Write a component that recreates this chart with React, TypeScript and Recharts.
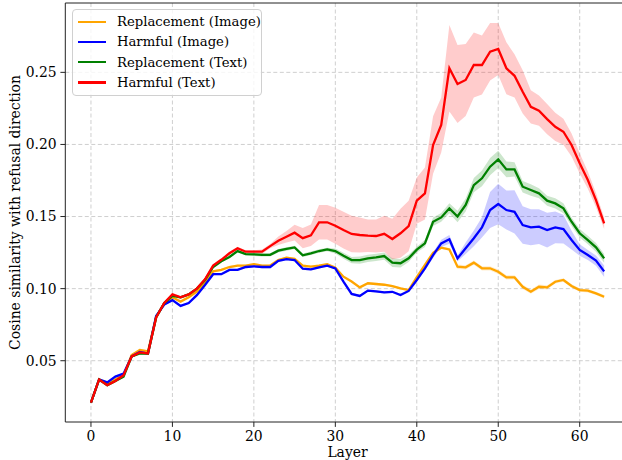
import React from 'react';
import { ComposedChart, Line, Area, XAxis, YAxis, CartesianGrid, Legend, ReferenceLine } from 'recharts';

const layers = Array.from({ length: 64 }, (_, i) => i);

const replImage = [
  0.021, 0.037, 0.034, 0.037, 0.040, 0.054, 0.0575, 0.0565, 0.080, 0.090,
  0.094, 0.091, 0.094, 0.098, 0.104, 0.112, 0.113, 0.115, 0.116, 0.116,
  0.117, 0.116, 0.116, 0.1198, 0.1214, 0.1207, 0.1159, 0.1152, 0.1159, 0.1169,
  0.1145, 0.1083, 0.1049, 0.1009, 0.1037, 0.1032, 0.1027, 0.1018, 0.1002, 0.099,
  0.108, 0.1164, 0.1249, 0.1284, 0.1272, 0.1152, 0.1148, 0.118, 0.1141, 0.1141,
  0.1117, 0.1078, 0.1078, 0.1013, 0.0979, 0.1013, 0.1009, 0.1048, 0.106, 0.1018,
  0.099, 0.0986, 0.0967, 0.0944,
];
const harmImage = [
  0.021, 0.037, 0.035, 0.039, 0.041, 0.053, 0.056, 0.055, 0.081, 0.089,
  0.092, 0.088, 0.090, 0.0955, 0.1025, 0.110, 0.110, 0.113, 0.113, 0.115,
  0.1155, 0.115, 0.115, 0.1193, 0.1205, 0.1198, 0.1138, 0.1134, 0.1148, 0.1159,
  0.114, 0.1049, 0.0963, 0.0949, 0.0986, 0.0981, 0.0974, 0.0978, 0.0956, 0.0984,
  0.106, 0.114, 0.1233, 0.1314, 0.1342, 0.121, 0.128, 0.1349, 0.1425, 0.1545,
  0.1587, 0.1545, 0.1533, 0.1441, 0.1425, 0.143, 0.1406, 0.1425, 0.1413, 0.1337,
  0.1268, 0.1233, 0.1194, 0.112,
];
const replText = [
  0.021, 0.037, 0.033, 0.036, 0.039, 0.053, 0.055, 0.055, 0.080, 0.090,
  0.095, 0.094, 0.096, 0.100, 0.106, 0.115, 0.119, 0.122, 0.126, 0.124,
  0.1238, 0.1234, 0.1234, 0.1263, 0.1275, 0.1286, 0.1231, 0.1245, 0.1261, 0.1272,
  0.1261, 0.1228, 0.1198, 0.1198, 0.121, 0.1217, 0.1226, 0.118, 0.1176, 0.121,
  0.127, 0.1314, 0.1464, 0.1494, 0.1557, 0.150, 0.158, 0.1718, 0.1765, 0.1846,
  0.1897, 0.1827, 0.1827, 0.1707, 0.1684, 0.1661, 0.161, 0.1591, 0.1557, 0.1464,
  0.1384, 0.1337, 0.1286, 0.121,
];
const harmText = [
  0.021, 0.037, 0.033, 0.036, 0.040, 0.053, 0.0558, 0.0551, 0.080, 0.090,
  0.096, 0.094, 0.096, 0.100, 0.1065, 0.116, 0.120, 0.1245, 0.128, 0.1256,
  0.1256, 0.1256, 0.1295, 0.1332, 0.136, 0.1388, 0.135, 0.137, 0.146, 0.146,
  0.1436, 0.1406, 0.1379, 0.1372, 0.1367, 0.1365, 0.138, 0.1344, 0.1384, 0.1434,
  0.161, 0.166, 0.1996, 0.2135, 0.2528, 0.2419, 0.2447, 0.2551, 0.2551, 0.2643,
  0.2662, 0.2528, 0.2476, 0.2365, 0.2261, 0.2234, 0.2176, 0.2122, 0.2088, 0.1996,
  0.1869, 0.1753, 0.1614, 0.1453,
];

// half width of the shaded band around each line
const replImageSpread = [
  0.0008, 0.0008, 0.0008, 0.0008, 0.0008, 0.0008, 0.0008, 0.0008, 0.0008, 0.0008,
  0.0008, 0.0008, 0.0008, 0.0008, 0.0008, 0.0008, 0.0008, 0.0008, 0.0008, 0.0008,
  0.0008, 0.0008, 0.0008, 0.0008, 0.0008, 0.0008, 0.0008, 0.0008, 0.0008, 0.0008,
  0.0008, 0.0008, 0.0008, 0.0008, 0.0008, 0.0008, 0.0008, 0.0008, 0.0008, 0.0008,
  0.001, 0.001, 0.001, 0.001, 0.001, 0.0015, 0.0015, 0.0015, 0.0015, 0.0015,
  0.0015, 0.0015, 0.0015, 0.0015, 0.0015, 0.0015, 0.0015, 0.0012, 0.0012, 0.0012,
  0.0012, 0.0012, 0.0012, 0.0012,
];
const harmImageSpread = [
  0.0008, 0.0008, 0.0008, 0.0008, 0.0008, 0.0008, 0.0008, 0.0008, 0.0008, 0.0008,
  0.0008, 0.0008, 0.0008, 0.0008, 0.0008, 0.0008, 0.0008, 0.0008, 0.0008, 0.0008,
  0.0008, 0.0008, 0.0008, 0.0008, 0.0008, 0.0008, 0.0008, 0.0008, 0.0008, 0.0008,
  0.0008, 0.0008, 0.0008, 0.0008, 0.0008, 0.0008, 0.0008, 0.0008, 0.0008, 0.0008,
  0.001, 0.0015, 0.002, 0.0025, 0.003, 0.002, 0.004, 0.0055, 0.007, 0.0125,
  0.014, 0.0135, 0.015, 0.013, 0.0125, 0.012, 0.012, 0.011, 0.010, 0.0065,
  0.004, 0.0035, 0.0035, 0.004,
];
const replTextSpread = [
  0.0008, 0.0008, 0.0008, 0.0008, 0.0008, 0.0008, 0.0008, 0.0008, 0.0008, 0.0008,
  0.0008, 0.0008, 0.0008, 0.0008, 0.0008, 0.0008, 0.0008, 0.0008, 0.0008, 0.0008,
  0.0012, 0.0012, 0.0012, 0.0012, 0.0012, 0.0012, 0.0012, 0.0012, 0.0012, 0.0012,
  0.0018, 0.002, 0.0022, 0.0025, 0.0025, 0.0025, 0.0025, 0.003, 0.003, 0.0025,
  0.002, 0.0025, 0.003, 0.003, 0.0035, 0.004, 0.0045, 0.005, 0.0055, 0.006,
  0.006, 0.0055, 0.005, 0.004, 0.004, 0.0035, 0.0035, 0.0035, 0.0035, 0.003,
  0.003, 0.003, 0.003, 0.003,
];
const harmTextSpread = [
  0.001, 0.001, 0.001, 0.001, 0.001, 0.001, 0.001, 0.001, 0.001, 0.001,
  0.001, 0.001, 0.001, 0.001, 0.001, 0.001, 0.001, 0.001, 0.001, 0.001,
  0.001, 0.0015, 0.0015, 0.003, 0.004, 0.0055, 0.007, 0.0075, 0.012, 0.012,
  0.0125, 0.0128, 0.0127, 0.0122, 0.0113, 0.0115, 0.0125, 0.014, 0.017, 0.0175,
  0.016, 0.018, 0.02, 0.019, 0.030, 0.027, 0.025, 0.0225, 0.0205, 0.02,
  0.018, 0.018, 0.015, 0.015, 0.0115, 0.0105, 0.0105, 0.0098, 0.009, 0.008,
  0.007, 0.006, 0.005, 0.004,
];

const xTicks = [0, 10, 20, 30, 40, 50, 60];
const yTicks = [0.05, 0.1, 0.15, 0.2, 0.25];

const series = [
  { key: 'replImage', name: 'Replacement (Image)', color: '#FFA500', values: replImage, spread: replImageSpread },
  { key: 'harmImage', name: 'Harmful (Image)', color: '#0000FF', values: harmImage, spread: harmImageSpread },
  { key: 'replText', name: 'Replacement (Text)', color: '#008000', values: replText, spread: replTextSpread },
  { key: 'harmText', name: 'Harmful (Text)', color: '#FF0000', values: harmText, spread: harmTextSpread },
];

const data = layers.map((layer, i) => {
  const row: Record<string, any> = { layer };
  series.forEach(s => {
    row[s.key] = s.values[i];
    row[s.key + 'Band'] = [s.values[i] - s.spread[i], s.values[i] + s.spread[i]];
  });
  return row;
});

const FONT = '"DejaVu Serif", serif';
const Y_MIN = 0.0075;
const Y_MAX = 0.2981;

const LegendBox = () => (
  <div style={{
    width: 188, height: 83, border: '1px solid #d0d0d0', borderRadius: 4,
    background: 'rgba(255,255,255,0.8)', fontFamily: FONT, fontSize: 13.2,
    color: '#000', paddingTop: 1.5, boxSizing: 'content-box',
  }}>
    {series.map(s => (
      <div key={s.key} style={{ height: 20.3, display: 'flex', alignItems: 'center' }}>
        <span style={{ display: 'inline-block', flexShrink: 0, width: 28, height: 2.2, background: s.color, marginLeft: 5, marginRight: 11 }} />
        <span style={{ whiteSpace: 'nowrap' }}>{s.name}</span>
      </div>
    ))}
  </div>
);

const YLabel = () => (
  <text x={15} y={212.5} transform="rotate(-90, 15, 212.5)" textAnchor="middle" dominantBaseline="central"
    fontFamily={FONT} fontSize={13.9} fill="#000">
    Cosine similarity with refusal direction
  </text>
);

const XLabel = () => (
  <text x={347.5} y={451.5} textAnchor="middle" dominantBaseline="central"
    fontFamily={FONT} fontSize={13.9} fill="#000">
    Layer
  </text>
);

export default function App() {
  return (
    <div style={{ position: 'fixed', left: 0, top: 0, width: 622, height: 460, overflow: 'hidden', background: '#fff' }}>
      <ComposedChart width={632} height={460} data={data} margin={{ top: 3, right: 2.2, left: 0, bottom: 0 }}>
        <CartesianGrid stroke="#cfcfcf" strokeDasharray="4 2.5" horizontalValues={yTicks} verticalValues={xTicks} />
        <XAxis
          dataKey="layer" type="number" domain={[-3.15, 66.15]} ticks={xTicks} allowDataOverflow
          height={38} tickSize={4.9} tickMargin={4.5} stroke="#222"
          tick={{ fill: '#000', fontFamily: FONT, fontSize: 13.9 }}
          label={<XLabel />}
        />
        <YAxis
          type="number" domain={[Y_MIN, Y_MAX]} ticks={yTicks} allowDataOverflow
          width={65.3} tickSize={4.9} tickMargin={3.7} stroke="#222"
          tickFormatter={(v: number) => v.toFixed(2)}
          tick={{ fill: '#000', fontFamily: FONT, fontSize: 13.9 }}
          label={<YLabel />}
        />
        <ReferenceLine y={Y_MAX} stroke="#222" strokeWidth={1} />
        {series.map(s => (
          <Area key={s.key + 'Band'} dataKey={s.key + 'Band'} stroke="none" fill={s.color} fillOpacity={0.2}
            isAnimationActive={false} activeDot={false} legendType="none" />
        ))}
        {series.map(s => (
          <Line key={s.key} dataKey={s.key} name={s.name} stroke={s.color} strokeWidth={2.3} dot={false}
            activeDot={false} isAnimationActive={false} />
        ))}
        <Legend layout="vertical" align="center" verticalAlign="middle" content={<LegendBox />}
          wrapperStyle={{ position: 'absolute', left: 72, top: 9, width: 'auto', height: 'auto' }} />
      </ComposedChart>
    </div>
  );
}
